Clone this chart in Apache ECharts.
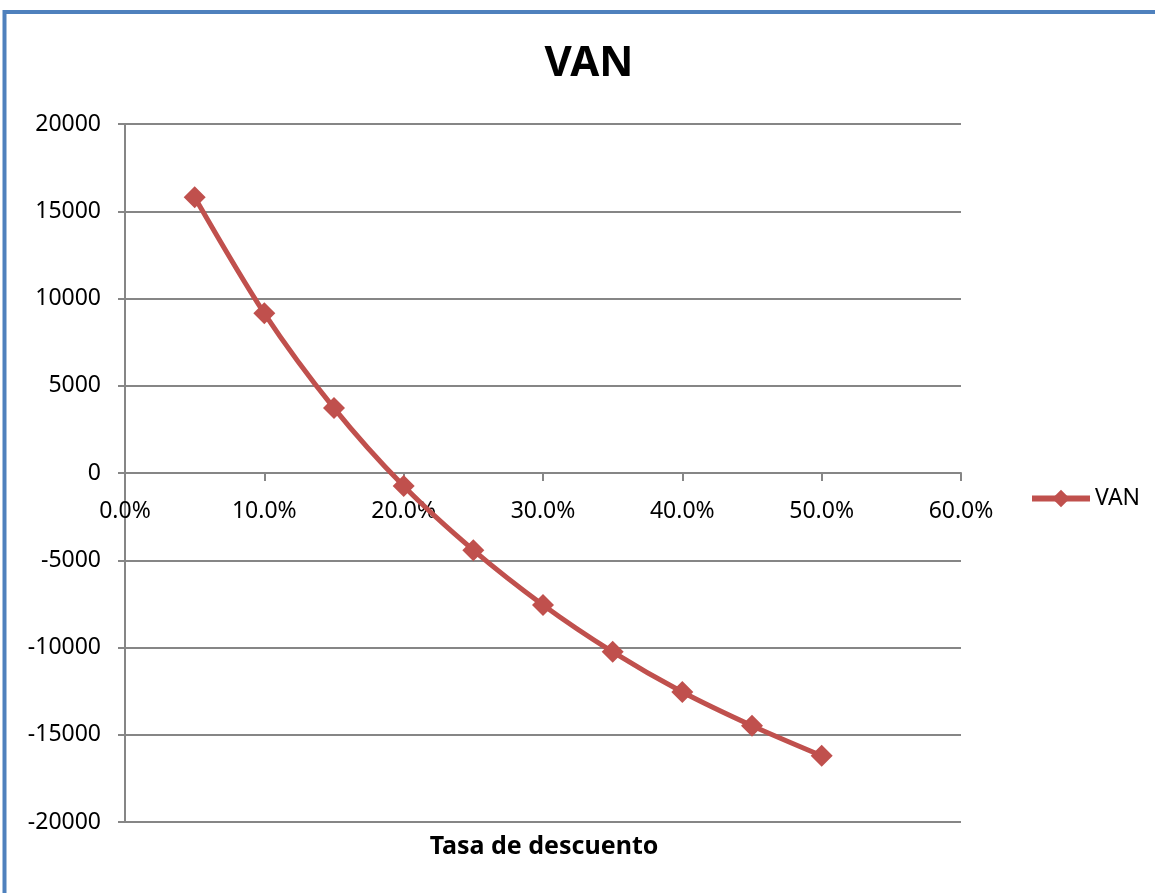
<!DOCTYPE html>
<html>
<head>
<meta charset="utf-8">
<script src="https://cdn.jsdelivr.net/npm/echarts@6/dist/echarts.min.js"></script>
<style>
html,body{margin:0;padding:0;background:#fff;}
#c{width:1155px;height:893px;}
</style>
</head>
<body>
<div id="c"></div>
<script>
const seriesName = 'VAN';
const rates = [5, 10, 15, 20, 25, 30, 35, 40, 45, 50];
const vanValues = [15800, 9150, 3720, -750, -4420, -7560, -10250, -12550, -14480, -16200];
const xTitle = 'Tasa de descuento';
const chartTitle = 'VAN';

const chart = echarts.init(document.getElementById('c'));
const font = '"Noto Sans", "Open Sans", sans-serif';
chart.setOption({
  backgroundColor: '#fff',
  animation: false,
  title: {
    text: chartTitle, left: 584, top: 38, textAlign: 'center',
    textStyle: {fontFamily: font, fontSize: 42, fontWeight: 'bold', color: '#000'}
  },
  legend: {
    left: 1024, top: 482, itemWidth: 58, itemHeight: 22, itemGap: 4,
    textStyle: {fontFamily: font, fontSize: 23, color: '#000'},
    lineStyle: {width: 6},
    data: [seriesName]
  },
  grid: {left: 125, right: 194, top: 124, bottom: 71, containLabel: false, outerBoundsMode: 'none'},
  xAxis: {
    type: 'value', min: 0, max: 60, interval: 10, position: 'bottom', offset: -349,
    axisLine: {onZero: false, lineStyle: {color: '#868686', width: 2}},
    axisTick: {show: true, length: 8, lineStyle: {color: '#868686', width: 2}},
    axisLabel: {fontFamily: font, fontSize: 23, color: '#000', margin: 27,
      formatter: v => v.toFixed(1) + '%'},
    splitLine: {show: false}
  },
  yAxis: {
    type: 'value', min: -20000, max: 20000, interval: 5000,
    axisLine: {show: true, lineStyle: {color: '#868686', width: 2}},
    axisTick: {show: true, length: 7, lineStyle: {color: '#868686', width: 2}},
    axisLabel: {fontFamily: font, fontSize: 23, color: '#000', margin: 24,
      formatter: v => String(v)},
    splitLine: {show: true, lineStyle: {color: '#868686', width: 2}}
  },
  graphic: [{
    type: 'rect', silent: true, z: 100,
    shape: {x: 4.5, y: 12, width: 1170, height: 900},
    style: {fill: 'none', stroke: '#4F81BD', lineWidth: 4}
  }, {
    type: 'text', silent: true,
    style: {text: xTitle, x: 544, y: 847, textAlign: 'center', textVerticalAlign: 'middle',
      font: 'bold 25px ' + font, fill: '#000'}
  }],
  series: [{
    name: seriesName, type: 'line', smooth: 0.3,
    data: rates.map((r, i) => [r, vanValues[i]]),
    symbol: 'diamond', symbolSize: 22,
    lineStyle: {color: '#C0504D', width: 5},
    itemStyle: {color: '#C0504D'}
  }]
});
</script>
</body>
</html>
